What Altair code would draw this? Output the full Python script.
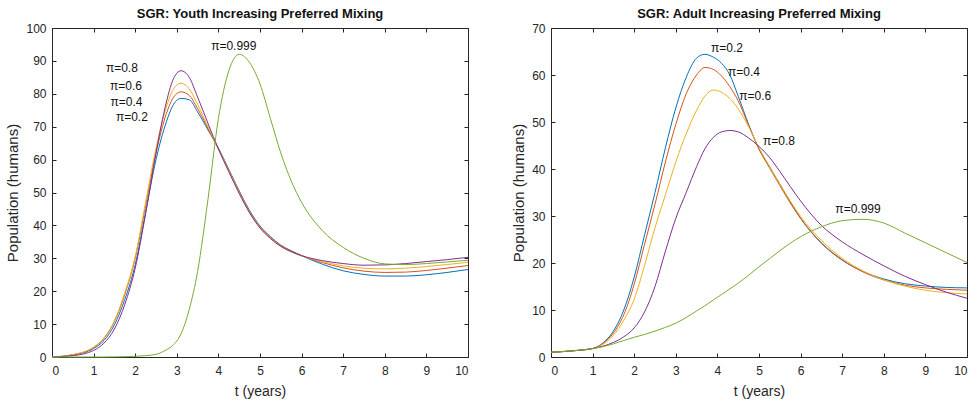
import altair as alt
import pandas as pd

# ---------------- data: left panel (Youth) ----------------
t_left = [0, 0.5, 1, 1.25, 1.5, 1.75, 2, 2.25, 2.5, 2.75, 2.9, 3.1, 3.3, 3.5, 3.75, 4,
          4.25, 4.5, 4.75, 5, 5.25, 5.5, 5.75, 6, 6.5, 7, 7.5, 8, 8.5, 9, 9.5, 10]
youth_02 = [0, 0.6, 2.6, 5, 9.8, 17.5, 28, 44, 60, 71.5, 76.3, 78.6, 78.2, 74.5, 69, 63.5,
            57, 50.5, 44.5, 39.8, 36.6, 34, 32.3, 30.8, 28.2, 26.2, 25.1, 24.6, 24.6, 25, 25.7, 26.6]
youth_04 = [0, 0.7, 2.9, 5.6, 10.8, 19, 30, 46, 62, 74, 78.5, 80.6, 79.5, 75.5, 69.5, 63.3,
            56.8, 50.2, 44.2, 39.6, 36.4, 33.9, 32.2, 30.8, 28.7, 27.1, 26.1, 25.7, 25.8, 26.3, 27, 27.8]
youth_06 = [0, 0.7, 3, 5.8, 11, 19.5, 30.5, 47, 63.5, 76, 81, 83.2, 81.5, 76.8, 70, 63.2,
            56.6, 50, 44, 39.4, 36.2, 33.7, 32, 30.7, 29, 27.7, 27, 26.8, 27, 27.5, 28.1, 28.8]
youth_08 = [0, 0.4, 2, 4.2, 8.5, 16, 27, 43.5, 62, 77.5, 84, 87, 85, 79, 71, 63.2,
            56.3, 49.7, 43.8, 39.2, 36, 33.6, 32, 30.8, 29.3, 28.4, 27.9, 28, 28.4, 29, 29.6, 30.3]
youth_0999 = [0, 0, 0, 0, 0.05, 0.1, 0.2, 0.4, 0.8, 2.2, 3.5, 7, 14.5, 26, 48, 72.5,
              87, 92, 89.5, 83, 72.5, 62, 53.5, 47, 38.4, 33.3, 30, 28.3, 28.1, 28.4, 28.9, 29.4]

# ---------------- data: right panel (Adult) ----------------
t_right = [0, 0.5, 1, 1.25, 1.5, 1.75, 2, 2.25, 2.5, 2.75, 3, 3.25, 3.5, 3.7, 3.9, 4.1,
           4.3, 4.5, 4.75, 5, 5.25, 5.5, 5.75, 6, 6.5, 7, 7.5, 8, 8.5, 9, 9.5, 10]
adult_02 = [1.0, 1.3, 1.8, 3, 5.5, 10, 17, 26, 35, 44.5, 53, 59.5, 63.6, 64.4, 63.8, 62.5,
            60, 55.5, 49.5, 44.3, 40.5, 36.8, 33, 29.5, 24.2, 20.6, 18.2, 16.6, 15.6, 15.1, 14.8, 14.7]
adult_04 = [1.0, 1.3, 1.8, 2.9, 5.1, 9, 15.5, 24, 32.5, 41.5, 49.5, 56, 60, 61.6, 61.2, 59.8,
            57.5, 54.5, 49.3, 44.2, 40.3, 36.5, 32.8, 29.5, 24.3, 20.7, 18.1, 16.4, 15.3, 14.7, 14.4, 14.2]
adult_06 = [1.0, 1.3, 1.8, 2.7, 4.6, 7.8, 12.3, 19.5, 27.5, 34.5, 41.5, 47.5, 52.5, 55.5, 56.8, 56.3,
            55, 52.8, 49, 44.5, 40.6, 36.8, 33.2, 29.9, 24.8, 21, 18.3, 16.4, 15.1, 14.2, 13.7, 13.4]
adult_08 = [1.0, 1.3, 1.8, 2.3, 3.1, 4.3, 6.2, 9.6, 15, 22.5, 29.5, 35, 40.5, 44.3, 46.7, 47.9,
            48.2, 47.9, 46.6, 44.8, 42.5, 39.5, 36.3, 33.2, 28, 24.5, 21.8, 19.4, 17.2, 15.4, 13.8, 12.5]
adult_0999 = [1.0, 1.3, 1.8, 2.2, 2.8, 3.5, 4.2, 4.8, 5.5, 6.3, 7.2, 8.4, 9.8, 10.9, 12.1, 13.3,
              14.5, 15.7, 17.4, 19.2, 20.9, 22.6, 24.2, 25.6, 27.7, 29, 29.3, 28.5, 26.4, 24.3, 22.2, 20.1]

series_names = ["π=0.2", "π=0.4", "π=0.6", "π=0.8", "π=0.999"]
series_colors = ["#0072BD", "#D95319", "#EDB120", "#7E2F8E", "#77AC30"]

# curve labels
left_label_text = ["π=0.999", "π=0.8", "π=0.6", "π=0.4", "π=0.2"]
left_label_t = [4.37, 1.68, 1.78, 1.79, 1.92]
left_label_v = [94.6, 87.8, 82.4, 77.5, 73.0]
right_label_text = ["π=0.2", "π=0.4", "π=0.6", "π=0.8", "π=0.999"]
right_label_t = [4.23, 4.64, 4.91, 5.48, 7.38]
right_label_v = [65.7, 60.6, 55.6, 46.0, 31.4]

FONT = "Liberation Sans"
DARK = "#262626"


def long_df(t, cols):
    rows = []
    for name, vals in zip(series_names, cols):
        for i, (tt, vv) in enumerate(zip(t, vals)):
            rows.append({"t": tt, "v": vv, "series": name, "order": i})
    return pd.DataFrame(rows)


def panel(t, cols, ltxt, lt, lv, ymax, title):
    df = long_df(t, cols)
    lab = pd.DataFrame({"t": lt, "v": lv, "label": ltxt})
    xs = alt.Scale(domain=[0, 10], nice=False)
    ys = alt.Scale(domain=[0, ymax], nice=False)
    common = dict(domain=False, grid=False, tickSize=4, offset=-4, tickColor=DARK,
                  tickWidth=1, labelFont=FONT, labelFontSize=12, labelColor=DARK,
                  titleFont=FONT, titleColor=DARK, titleFontWeight="normal")
    lines = alt.Chart(df).mark_line(strokeWidth=1, interpolate="monotone").encode(
        x=alt.X("t:Q", scale=xs,
                axis=alt.Axis(orient="bottom", values=list(range(0, 11)), title="t (years)",
                              labelPadding=8, titleFontSize=14, titlePadding=8, **common)),
        y=alt.Y("v:Q", scale=ys,
                axis=alt.Axis(orient="left", values=list(range(0, ymax + 1, 10)),
                              title="Population (humans)", labelPadding=6,
                              titleFontSize=15, titlePadding=5, **common)),
        color=alt.Color("series:N", scale=alt.Scale(domain=series_names, range=series_colors),
                        legend=None),
        order="order:Q",
    )
    texts = alt.Chart(lab).mark_text(font=FONT, fontSize=12, color="#111111",
                                     align="center", baseline="middle").encode(
        x=alt.X("t:Q", scale=xs,
                axis=alt.Axis(orient="top", values=list(range(0, 11)), labels=False,
                              title=None, **common)),
        y=alt.Y("v:Q", scale=ys,
                axis=alt.Axis(orient="right", values=list(range(0, ymax + 1, 10)),
                              labels=False, title=None, **common)),
        text="label:N",
    )
    return alt.layer(lines, texts).resolve_axis(x="independent", y="independent").properties(
        width=416, height=329,
        title=alt.TitleParams(title, font=FONT, fontSize=13, fontWeight="bold",
                              color="#111111", anchor="middle", offset=1),
    )


left = panel(t_left, [youth_02, youth_04, youth_06, youth_08, youth_0999],
             left_label_text, left_label_t, left_label_v, 100,
             "SGR: Youth Increasing Preferred Mixing")
right = panel(t_right, [adult_02, adult_04, adult_06, adult_08, adult_0999],
              right_label_text, right_label_t, right_label_v, 70,
              "SGR: Adult Increasing Preferred Mixing")

chart = alt.hconcat(left, right, spacing=40).properties(
    padding={"left": 5, "top": 7, "right": 0, "bottom": 0},
    background="white",
).configure_view(stroke=DARK, strokeWidth=1)

chart.save("out.html", embed_options={"renderer": "svg", "actions": False})
